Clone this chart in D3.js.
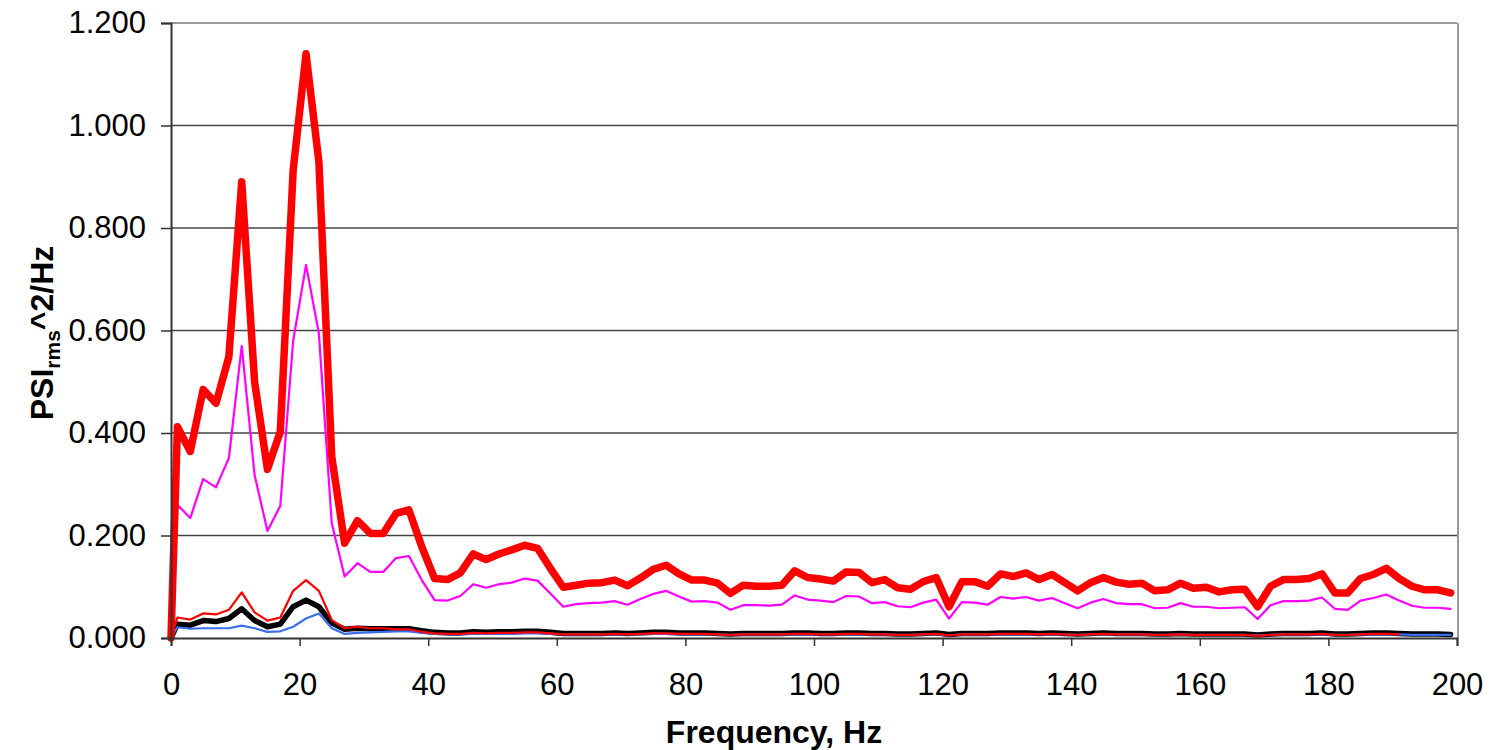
<!DOCTYPE html>
<html>
<head>
<meta charset="utf-8">
<script src="https://cdn.jsdelivr.net/npm/d3@7"></script>
<style>
  body { margin: 0; background: #fff; }
  text { font-family: "Liberation Sans", Arial, sans-serif; }
</style>
</head>
<body>
<div id="chart"></div>
<script>
// frequencies (Hz) of each sample point
var freqs = [0,
  1, 3, 5, 7, 9, 11, 13, 15, 17, 19,
  21, 23, 25, 27, 29, 31, 33, 35, 37, 39,
  41, 43, 45, 47, 49, 51, 53, 55, 57, 59,
  61, 63, 65, 67, 69, 71, 73, 75, 77, 79,
  81, 83, 85, 87, 89, 91, 93, 95, 97, 99,
  101, 103, 105, 107, 109, 111, 113, 115, 117, 119,
  121, 123, 125, 127, 129, 131, 133, 135, 137, 139,
  141, 143, 145, 147, 149, 151, 153, 155, 157, 159,
  161, 163, 165, 167, 169, 171, 173, 175, 177, 179,
  181, 183, 185, 187, 189, 191, 193, 195, 197, 199];

var thickRed = [0,
  0.412, 0.364, 0.485, 0.458, 0.549, 0.890, 0.500, 0.329, 0.403, 0.913,
  1.140, 0.929, 0.354, 0.185, 0.229, 0.204, 0.204, 0.243, 0.250, 0.178,
  0.116, 0.114, 0.127, 0.164, 0.153, 0.164, 0.172, 0.181, 0.175, 0.136,
  0.099, 0.103, 0.107, 0.108, 0.113, 0.102, 0.117, 0.134, 0.142, 0.125,
  0.113, 0.113, 0.107, 0.087, 0.103, 0.101, 0.101, 0.103, 0.131, 0.118,
  0.115, 0.111, 0.129, 0.128, 0.108, 0.114, 0.098, 0.095, 0.110, 0.118,
  0.061, 0.110, 0.110, 0.101, 0.125, 0.120, 0.127, 0.114, 0.124, 0.108,
  0.092, 0.108, 0.118, 0.109, 0.105, 0.107, 0.092, 0.094, 0.107, 0.097,
  0.099, 0.090, 0.094, 0.095, 0.061, 0.101, 0.114, 0.114, 0.116, 0.125,
  0.088, 0.088, 0.116, 0.124, 0.136, 0.116, 0.101, 0.094, 0.094, 0.088];

var magenta = [0,
  0.260, 0.234, 0.310, 0.294, 0.351, 0.570, 0.318, 0.209, 0.258, 0.580,
  0.728, 0.594, 0.224, 0.120, 0.146, 0.129, 0.129, 0.156, 0.160, 0.113,
  0.074, 0.073, 0.082, 0.105, 0.098, 0.105, 0.108, 0.116, 0.112, 0.087,
  0.061, 0.066, 0.068, 0.069, 0.072, 0.065, 0.076, 0.086, 0.092, 0.081,
  0.071, 0.072, 0.069, 0.055, 0.064, 0.064, 0.063, 0.065, 0.083, 0.075,
  0.073, 0.070, 0.082, 0.081, 0.068, 0.070, 0.062, 0.060, 0.069, 0.075,
  0.038, 0.070, 0.069, 0.065, 0.080, 0.077, 0.080, 0.073, 0.078, 0.068,
  0.058, 0.069, 0.076, 0.068, 0.066, 0.066, 0.058, 0.059, 0.068, 0.061,
  0.061, 0.058, 0.059, 0.060, 0.037, 0.064, 0.072, 0.072, 0.073, 0.079,
  0.057, 0.055, 0.073, 0.078, 0.085, 0.073, 0.063, 0.059, 0.059, 0.057];

// thin red stops at 191 Hz
var thinRed = [0,
  0.040, 0.036, 0.048, 0.046, 0.055, 0.089, 0.050, 0.034, 0.040, 0.092,
  0.113, 0.092, 0.035, 0.019, 0.022, 0.019, 0.019, 0.017, 0.017, 0.012,
  0.009, 0.008, 0.008, 0.010, 0.009, 0.010, 0.010, 0.011, 0.011, 0.009,
  0.007, 0.007, 0.007, 0.007, 0.008, 0.007, 0.008, 0.009, 0.009, 0.008,
  0.008, 0.008, 0.007, 0.006, 0.007, 0.007, 0.007, 0.007, 0.008, 0.008,
  0.007, 0.007, 0.008, 0.008, 0.007, 0.007, 0.006, 0.006, 0.007, 0.008,
  0.005, 0.007, 0.007, 0.007, 0.008, 0.008, 0.008, 0.007, 0.008, 0.007,
  0.006, 0.007, 0.008, 0.007, 0.007, 0.007, 0.006, 0.006, 0.007, 0.006,
  0.006, 0.006, 0.006, 0.006, 0.004, 0.006, 0.007, 0.007, 0.007, 0.008,
  0.006, 0.006, 0.007, 0.008, 0.008, 0.007];

var black = [0,
  0.027, 0.025, 0.034, 0.032, 0.038, 0.057, 0.034, 0.022, 0.027, 0.061,
  0.074, 0.061, 0.029, 0.017, 0.019, 0.018, 0.018, 0.018, 0.018, 0.014,
  0.011, 0.010, 0.010, 0.012, 0.011, 0.012, 0.012, 0.013, 0.013, 0.011,
  0.009, 0.009, 0.009, 0.009, 0.010, 0.009, 0.010, 0.011, 0.011, 0.010,
  0.010, 0.010, 0.009, 0.008, 0.009, 0.009, 0.009, 0.009, 0.010, 0.010,
  0.009, 0.009, 0.010, 0.010, 0.009, 0.009, 0.008, 0.008, 0.009, 0.010,
  0.007, 0.009, 0.009, 0.009, 0.010, 0.010, 0.010, 0.009, 0.010, 0.009,
  0.008, 0.009, 0.010, 0.009, 0.009, 0.009, 0.008, 0.008, 0.009, 0.008,
  0.008, 0.008, 0.008, 0.008, 0.006, 0.008, 0.009, 0.009, 0.009, 0.010,
  0.008, 0.008, 0.009, 0.010, 0.010, 0.009, 0.008, 0.008, 0.008, 0.007];

var blue = [0,
  0.021, 0.018, 0.019, 0.019, 0.019, 0.024, 0.019, 0.012, 0.013, 0.022,
  0.038, 0.048, 0.019, 0.008, 0.010, 0.011, 0.012, 0.013, 0.013, 0.010,
  0.008, 0.007, 0.007, 0.008, 0.008, 0.008, 0.008, 0.009, 0.009, 0.008,
  0.007, 0.007, 0.007, 0.007, 0.007, 0.007, 0.007, 0.008, 0.008, 0.007,
  0.007, 0.007, 0.007, 0.006, 0.007, 0.007, 0.007, 0.007, 0.007, 0.007,
  0.007, 0.007, 0.007, 0.007, 0.007, 0.007, 0.006, 0.006, 0.007, 0.007,
  0.005, 0.007, 0.007, 0.007, 0.007, 0.007, 0.007, 0.007, 0.007, 0.007,
  0.006, 0.007, 0.007, 0.007, 0.007, 0.007, 0.006, 0.006, 0.007, 0.006,
  0.006, 0.006, 0.006, 0.006, 0.005, 0.006, 0.007, 0.007, 0.007, 0.007,
  0.006, 0.006, 0.007, 0.007, 0.007, 0.007, 0.006, 0.006, 0.006, 0.006];

var yTicks = [0, 0.2, 0.4, 0.6, 0.8, 1.0, 1.2];
var xTicks = [0, 20, 40, 60, 80, 100, 120, 140, 160, 180, 200];

var w = 1493, h = 750;
var plotLeft = 171, plotRight = 1457, plotTop = 23, plotBottom = 638;

var svg = d3.select("#chart").append("svg")
  .attr("width", w)
  .attr("height", h);

var x = d3.scaleLinear().domain([0, 200]).range([plotLeft, plotRight]);
var y = d3.scaleLinear().domain([0, 1.2]).range([plotBottom, plotTop]);

// gridlines
svg.append("g")
  .selectAll("line")
  .data(yTicks.slice(1))
  .enter()
  .append("line")
  .attr("x1", plotLeft)
  .attr("x2", plotRight)
  .attr("y1", function(d) { return y(d); })
  .attr("y2", function(d) { return y(d); })
  .attr("stroke", function(d) { return d === 1.2 ? "#999" : "#444"; })
  .attr("stroke-width", function(d) { return d === 1.2 ? 2 : 1.5; });

// right frame
svg.append("line")
  .attr("x1", plotRight + 1).attr("x2", plotRight + 1)
  .attr("y1", plotTop).attr("y2", plotBottom)
  .attr("stroke", "#999")
  .attr("stroke-width", 2);

// series, drawn bottom to top
var series = [
  { vals: black, color: "#000", width: 5.5 },
  { vals: blue, color: "#3a6ef0", width: 2.2 },
  { vals: thinRed, color: "#ff0000", width: 2.2 },
  { vals: magenta, color: "#ff00ff", width: 2.2 },
  { vals: thickRed, color: "#ff0000", width: 7.5 }
];

var line = d3.line()
  .x(function(d) { return x(d[0]); })
  .y(function(d) { return y(d[1]); });

series.forEach(function(s) {
  var pts = s.vals.map(function(v, i) { return [freqs[i], v]; });
  svg.append("path")
    .datum(pts)
    .attr("fill", "none")
    .attr("stroke", s.color)
    .attr("stroke-width", s.width)
    .attr("stroke-linejoin", "round")
    .attr("stroke-linecap", "round")
    .attr("d", line);
});

// axes
var yAxis = svg.append("g")
  .attr("transform", "translate(" + plotLeft + ",0)")
  .call(d3.axisLeft(y).tickValues(yTicks).tickFormat(d3.format(".3f")).tickSize(10).tickPadding(15));

var xAxis = svg.append("g")
  .attr("transform", "translate(0," + plotBottom + ")")
  .call(d3.axisBottom(x).tickValues(xTicks).tickSize(8).tickPadding(27));

[yAxis, xAxis].forEach(function(g) {
  g.select(".domain").attr("stroke", "#333").attr("stroke-width", 2);
  g.selectAll(".tick line").attr("stroke", "#333").attr("stroke-width", 1.5);
  g.selectAll("text")
    .attr("font-family", "Liberation Sans, Arial, sans-serif")
    .attr("font-size", "31px")
    .attr("fill", "#000");
});

// axis titles
svg.append("text")
  .text("Frequency, Hz")
  .attr("x", 774)
  .attr("y", 743)
  .attr("text-anchor", "middle")
  .attr("font-size", "32px")
  .attr("font-weight", "bold");

var yLabel = svg.append("text")
  .attr("transform", "translate(53,333) rotate(-90)")
  .attr("text-anchor", "middle")
  .attr("font-size", "32px")
  .attr("font-weight", "bold");
yLabel.append("tspan").text("PSI");
yLabel.append("tspan").text("rms").attr("font-size", "21px").attr("dy", 7);
yLabel.append("tspan").text("^2/Hz").attr("dy", -7);
</script>
</body>
</html>
